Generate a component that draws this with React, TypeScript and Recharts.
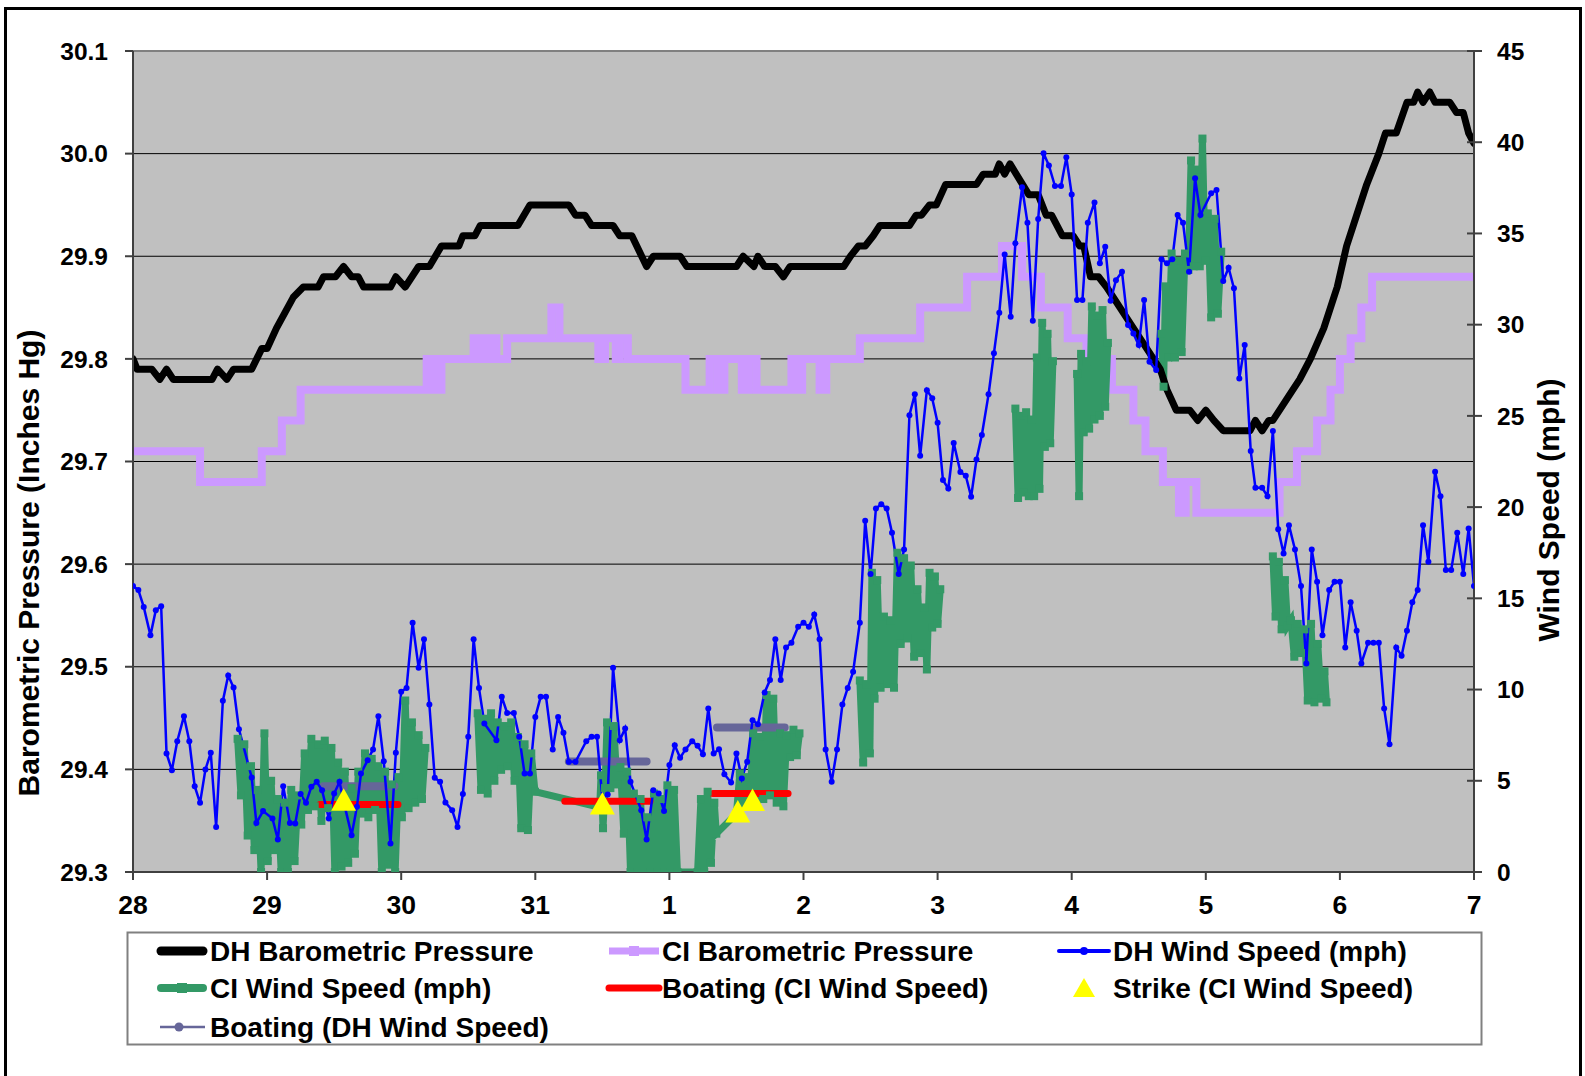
import React from 'react';
import {
  ComposedChart,
  Line,
  Scatter,
  XAxis,
  YAxis,
  CartesianGrid,
  ReferenceLine,
} from 'recharts';

type Pt = [number, number | null];

const FONT = '"Liberation Sans", Arial, sans-serif';

// x is days since the 28th
const dayTicks = [0, 1, 2, 3, 4, 5, 6, 7, 8, 9, 10];
const dayLabels = ['28', '29', '30', '31', '1', '2', '3', '4', '5', '6', '7'];
const pressureTicks = [29.3, 29.4, 29.5, 29.6, 29.7, 29.8, 29.9, 30.0, 30.1];
const windTicks = [0, 5, 10, 15, 20, 25, 30, 35, 40, 45];

// DH barometric pressure (inches Hg)
const dhPressure: Pt[] = [
  [0, 29.8], [0.03, 29.79], [0.14, 29.79], [0.2, 29.78], [0.25, 29.79], [0.3, 29.78],
  [0.59, 29.78], [0.63, 29.79], [0.7, 29.78], [0.75, 29.79], [0.885, 29.79], [0.96, 29.81],
  [1.0, 29.81], [1.07, 29.83], [1.195, 29.86], [1.27, 29.87], [1.38, 29.87], [1.42, 29.88],
  [1.51, 29.88], [1.57, 29.89], [1.63, 29.88], [1.68, 29.88], [1.72, 29.87], [1.92, 29.87],
  [1.96, 29.88], [2.03, 29.87], [2.13, 29.89], [2.21, 29.89], [2.3, 29.91], [2.43, 29.91],
  [2.46, 29.92], [2.55, 29.92], [2.59, 29.93], [2.87, 29.93], [2.96, 29.95], [3.25, 29.95],
  [3.3, 29.94], [3.37, 29.94], [3.42, 29.93], [3.58, 29.93], [3.63, 29.92], [3.72, 29.92],
  [3.83, 29.89], [3.88, 29.9], [4.08, 29.9], [4.13, 29.89], [4.5, 29.89], [4.55, 29.9],
  [4.63, 29.89], [4.66, 29.9], [4.71, 29.89], [4.79, 29.89], [4.85, 29.88], [4.9, 29.89],
  [5.3, 29.89], [5.35, 29.9], [5.41, 29.91], [5.46, 29.91], [5.52, 29.92], [5.57, 29.93],
  [5.79, 29.93], [5.84, 29.94], [5.88, 29.94], [5.94, 29.95], [5.99, 29.95], [6.06, 29.97],
  [6.29, 29.97], [6.34, 29.98], [6.43, 29.98], [6.46, 29.99], [6.5, 29.98], [6.54, 29.99],
  [6.68, 29.96], [6.75, 29.96], [6.81, 29.94], [6.85, 29.94], [6.93, 29.92], [7.01, 29.92],
  [7.06, 29.91], [7.09, 29.91], [7.14, 29.88], [7.2, 29.88], [7.26, 29.87], [7.36, 29.85],
  [7.46, 29.83], [7.56, 29.81], [7.66, 29.79], [7.71, 29.77], [7.78, 29.75], [7.88, 29.75],
  [7.94, 29.74], [8.0, 29.75], [8.06, 29.74], [8.13, 29.73], [8.33, 29.73], [8.37, 29.74],
  [8.42, 29.73], [8.47, 29.74], [8.5, 29.74], [8.6, 29.76], [8.7, 29.78], [8.78, 29.8],
  [8.88, 29.83], [8.98, 29.87], [9.05, 29.91], [9.125, 29.94], [9.2, 29.97], [9.29, 30.0],
  [9.34, 30.02], [9.42, 30.02], [9.5, 30.05], [9.55, 30.05], [9.58, 30.06], [9.62, 30.05],
  [9.67, 30.06], [9.71, 30.05], [9.82, 30.05], [9.87, 30.04], [9.92, 30.04], [9.96, 30.02],
  [10.0, 30.01],
];

// CI barometric pressure, each value holds until the next reading
const ciPressure: Pt[] = [
  [0, 29.71], [0.5, 29.68], [0.96, 29.71], [1.11, 29.74], [1.25, 29.77], [2.19, 29.8],
  [2.22, 29.77], [2.25, 29.8], [2.27, 29.77], [2.3, 29.8], [2.54, 29.82], [2.555, 29.8],
  [2.57, 29.82], [2.61, 29.8], [2.66, 29.82], [2.71, 29.8], [2.79, 29.82], [3.12, 29.85],
  [3.18, 29.82], [3.47, 29.8], [3.52, 29.82], [3.6, 29.8], [3.63, 29.82], [3.69, 29.8],
  [4.12, 29.77], [4.3, 29.8], [4.36, 29.77], [4.41, 29.8], [4.54, 29.77], [4.59, 29.8],
  [4.65, 29.77], [4.91, 29.8], [4.96, 29.77], [4.99, 29.8], [5.12, 29.77], [5.17, 29.8],
  [5.42, 29.82], [5.87, 29.85], [6.22, 29.88], [6.48, 29.91], [6.63, 29.88], [6.77, 29.85],
  [6.97, 29.82], [7.11, 29.8], [7.3, 29.77], [7.46, 29.74], [7.55, 29.71], [7.68, 29.68],
  [7.8, 29.65], [7.85, 29.68], [7.93, 29.65], [8.55, 29.68], [8.68, 29.71], [8.83, 29.74],
  [8.93, 29.77], [9.0, 29.8], [9.08, 29.82], [9.16, 29.85], [9.24, 29.88], [10.0, 29.88],
];

// DH wind speed (mph)
const dhWind: Pt[] = [
  [0, 15.67], [0.04, 15.45], [0.08, 14.53], [0.13, 12.97], [0.17, 14.35], [0.21, 14.57],
  [0.25, 6.5], [0.29, 5.58], [0.33, 7.17], [0.38, 8.54], [0.42, 7.17], [0.46, 4.7],
  [0.5, 3.79], [0.54, 5.62], [0.58, 6.53], [0.62, 2.47], [0.67, 9.38], [0.71, 10.77],
  [0.75, 10.11], [0.79, 7.83], [0.885, 5.18], [0.92, 2.69], [0.97, 3.34], [1.04, 2.93],
  [1.08, 1.78], [1.12, 4.7], [1.17, 2.69], [1.21, 2.66], [1.25, 4.27], [1.29, 3.79],
  [1.33, 4.67], [1.37, 4.94], [1.41, 4.48], [1.46, 2.93], [1.5, 4.3], [1.54, 4.94],
  [1.58, 3.57], [1.63, 2.02], [1.67, 3.57], [1.7, 5.4], [1.75, 6.13], [1.79, 6.72],
  [1.83, 8.54], [1.87, 6.07], [1.92, 1.56], [1.96, 6.53], [2.0, 9.88], [2.04, 10.09],
  [2.085, 13.66], [2.13, 11.19], [2.17, 12.76], [2.21, 9.18], [2.25, 5.16], [2.29, 4.94],
  [2.33, 3.81], [2.38, 3.39], [2.42, 2.47], [2.46, 4.27], [2.5, 7.41], [2.54, 12.76],
  [2.58, 10.09], [2.62, 8.14], [2.71, 7.22], [2.75, 9.6], [2.79, 8.72], [2.84, 8.72],
  [2.88, 7.41], [2.92, 5.4], [2.96, 5.4], [3.0, 8.5], [3.04, 9.6], [3.08, 9.6],
  [3.13, 6.72], [3.17, 8.5], [3.21, 7.63], [3.25, 6.04], [3.3, 6.04], [3.38, 7.17],
  [3.42, 7.41], [3.46, 7.41], [3.5, 4.03], [3.54, 4.25], [3.58, 11.19], [3.63, 7.22],
  [3.67, 7.87], [3.71, 4.94], [3.79, 3.39], [3.83, 1.78], [3.88, 4.48], [3.92, 4.3],
  [3.96, 3.35], [4.0, 5.86], [4.04, 6.95], [4.08, 6.26], [4.12, 6.72], [4.17, 7.17],
  [4.21, 6.92], [4.25, 6.46], [4.29, 8.96], [4.33, 6.5], [4.37, 6.73], [4.41, 5.36],
  [4.46, 4.91], [4.5, 6.5], [4.54, 5.13], [4.58, 6.04], [4.62, 8.32], [4.66, 8.1],
  [4.71, 9.84], [4.75, 10.52], [4.79, 12.76], [4.83, 10.52], [4.87, 12.31], [4.91, 12.56],
  [4.96, 13.44], [5.0, 13.66], [5.04, 13.44], [5.08, 14.11], [5.12, 12.76], [5.165, 6.72],
  [5.21, 4.94], [5.25, 6.72], [5.29, 9.18], [5.33, 10.09], [5.37, 10.97], [5.42, 13.66],
  [5.46, 19.25], [5.5, 16.33], [5.54, 19.93], [5.58, 20.15], [5.62, 19.93], [5.66, 18.59],
  [5.71, 16.33], [5.75, 17.68], [5.79, 25.04], [5.83, 26.18], [5.87, 22.81], [5.92, 26.41],
  [5.96, 25.96], [6.0, 24.62], [6.04, 21.48], [6.08, 21.02], [6.12, 23.52], [6.17, 21.92],
  [6.21, 21.72], [6.25, 20.57], [6.29, 22.61], [6.33, 23.95], [6.38, 26.18], [6.42, 28.43],
  [6.46, 30.65], [6.5, 33.85], [6.545, 30.44], [6.58, 34.46], [6.63, 37.53], [6.67, 35.59],
  [6.71, 30.22], [6.75, 35.79], [6.79, 39.39], [6.83, 38.73], [6.875, 37.6], [6.92, 37.6],
  [6.96, 39.17], [7.0, 37.14], [7.04, 31.35], [7.08, 31.35], [7.12, 35.59], [7.17, 36.7],
  [7.21, 33.36], [7.25, 34.27], [7.29, 31.31], [7.33, 32.44], [7.375, 32.9], [7.42, 29.98],
  [7.46, 29.52], [7.5, 28.88], [7.54, 31.35], [7.58, 27.97], [7.63, 27.51], [7.67, 33.58],
  [7.71, 33.36], [7.75, 33.58], [7.79, 36.01], [7.83, 35.59], [7.875, 32.9], [7.92, 38.02],
  [7.96, 36.01], [8.04, 37.2], [8.08, 37.38], [8.13, 32.39], [8.17, 33.12], [8.21, 31.99],
  [8.25, 27.05], [8.29, 28.88], [8.335, 23.07], [8.37, 21.06], [8.42, 21.06], [8.46, 20.6],
  [8.5, 24.17], [8.54, 18.79], [8.58, 17.46], [8.62, 19.01], [8.665, 17.68], [8.71, 15.67],
  [8.75, 11.43], [8.79, 17.68], [8.83, 15.91], [8.87, 12.98], [8.92, 15.45], [8.96, 15.91],
  [9.0, 15.91], [9.04, 12.31], [9.08, 14.78], [9.125, 13.22], [9.16, 11.43], [9.21, 12.56],
  [9.25, 12.56], [9.29, 12.56], [9.33, 8.96], [9.37, 7.0], [9.42, 12.31], [9.46, 11.85],
  [9.5, 13.22], [9.54, 14.78], [9.58, 15.45], [9.62, 19.01], [9.66, 17.0], [9.71, 21.94],
  [9.75, 20.6], [9.79, 16.55], [9.83, 16.55], [9.875, 18.59], [9.92, 16.33], [9.96, 18.83],
  [10.0, 15.67],
];

// CI wind speed (mph), null where the station logged nothing
const ciWind: Pt[] = [
  [0.78, 7.3], [0.805, 4.2], [0.83, 7.0], [0.855, 2.0], [0.88, 5.8], [0.905, 1.2],
  [0.93, 4.5], [0.955, 0], [0.98, 7.6], [1.005, 0.6], [1.03, 5.0], [1.055, 1.2],
  [1.08, 4.0], [1.105, 0], [1.13, 3.8], [1.155, 0], [1.18, 4.5], [1.205, 0.6],
  [1.23, 4.2], [1.255, 2.6], [1.28, 6.5], [1.305, 3.4], [1.33, 7.3], [1.355, 3.6],
  [1.38, 7.0], [1.405, 2.8], [1.43, 7.2], [1.455, 3.5], [1.48, 6.8], [1.505, 0],
  [1.53, 6.0], [1.555, 0.3], [1.58, 5.5], [1.605, 0.5], [1.63, 4.6], [1.655, 1.0],
  [1.68, 5.5], [1.705, 3.2], [1.73, 6.5], [1.755, 3.0], [1.78, 6.2], [1.805, 3.4],
  [1.83, 5.8], [1.855, 0], [1.88, 5.5], [1.905, 0.4], [1.93, 4.8], [1.955, 0],
  [1.98, 5.2], [2.005, 3.0], [2.03, 9.4], [2.055, 3.5], [2.08, 8.2], [2.105, 3.8],
  [2.13, 7.5], [2.155, 4.0], [2.18, 6.8], [2.3, null],
  [2.57, 8.7], [2.595, 4.5], [2.62, 8.4], [2.645, 4.3], [2.67, 8.7], [2.695, 5.0],
  [2.72, 8.2], [2.745, 5.6], [2.77, 8.0], [2.795, 5.8], [2.82, 8.2], [2.845, 5.0],
  [2.87, 7.4], [2.895, 2.4], [2.92, 7.0], [2.945, 2.3], [2.97, 6.5], [2.998, 4.4],
  [3.48, 3.55], [3.49, 5.3], [3.505, 2.4], [3.52, 4.6], [3.535, 8.2], [3.56, 4.6],
  [3.585, 8.0], [3.61, 4.8], [3.635, 5.75], [3.66, 2.1], [3.685, 5.5], [3.71, 0],
  [3.735, 4.3], [3.76, 0], [3.785, 4.0], [3.81, 0], [3.835, 3.0], [3.86, 0],
  [3.885, 4.3], [3.91, 0], [3.935, 4.0], [3.96, 0], [3.985, 4.75], [4.01, 0],
  [4.035, 4.5], [4.06, 0], [4.21, 0], [4.235, 4.0], [4.26, 0], [4.285, 4.4],
  [4.31, 0.5], [4.335, 3.8], [4.35, 2.1], [4.5, 3.2], [4.525, 5.4], [4.55, 3.6],
  [4.575, 5.2], [4.6, 3.8], [4.625, 7.6], [4.65, 3.6], [4.675, 7.4], [4.7, 4.0],
  [4.725, 9.7], [4.75, 4.2], [4.775, 9.5], [4.8, 3.8], [4.825, 7.6], [4.85, 3.6],
  [4.875, 7.5], [4.9, 6.3], [4.925, 7.8], [4.95, 6.4], [4.97, 7.6], [5.1, null],
  [5.42, 10.5], [5.445, 6.0], [5.47, 10.3], [5.495, 6.5], [5.51, 16.4], [5.53, 9.5],
  [5.55, 16.0], [5.575, 10.1], [5.6, 14.0], [5.625, 10.3], [5.65, 13.8], [5.675, 10.1],
  [5.7, 17.5], [5.725, 12.5], [5.75, 17.2], [5.775, 12.8], [5.8, 16.8], [5.825, 11.8],
  [5.85, 15.5], [5.875, 12.0], [5.9, 14.5], [5.92, 11.1], [5.94, 16.4], [5.96, 13.4],
  [5.98, 16.2], [6.0, 13.6], [6.02, 15.5], [6.2, null],
  [6.58, 25.4], [6.6, 20.5], [6.62, 25.0], [6.64, 20.8], [6.66, 25.2], [6.68, 20.6],
  [6.7, 24.8], [6.72, 20.6], [6.74, 28.2], [6.76, 21.0], [6.78, 30.1], [6.8, 23.3],
  [6.82, 29.5], [6.84, 23.5], [6.86, 28.0], [6.95, null],
  [7.04, 27.3], [7.055, 20.6], [7.07, 28.4], [7.09, 24.1], [7.11, 28.0], [7.13, 24.3],
  [7.15, 31.0], [7.17, 24.8], [7.19, 30.5], [7.21, 25.0], [7.23, 30.8], [7.25, 25.5],
  [7.27, 29.0], [7.4, null],
  [7.67, 29.5], [7.685, 26.6], [7.7, 32.1], [7.72, 28.2], [7.745, 33.9], [7.77, 28.2],
  [7.795, 33.5], [7.82, 28.5], [7.845, 33.9], [7.87, 33.0], [7.89, 39.0], [7.91, 33.2],
  [7.935, 38.5], [7.955, 33.2], [7.975, 40.2], [7.995, 33.5], [8.015, 36.1], [8.04, 30.4],
  [8.065, 35.8], [8.09, 30.6], [8.115, 34.0], [8.3, null],
  [8.5, 17.3], [8.52, 14.0], [8.545, 17.0], [8.565, 13.3], [8.59, 16.0], [8.61, 13.5],
  [8.635, 13.8], [8.66, 11.8], [8.685, 13.6], [8.71, 12.0], [8.735, 13.3], [8.76, 9.4],
  [8.785, 13.6], [8.81, 9.3], [8.835, 12.5], [8.86, 9.5], [8.885, 11.0], [8.9, 9.3],
];

// boating periods, plotted at the wind speed of each station
const boatingCi: Pt[] = [
  [1.394, 3.7], [1.976, 3.7], [2.5, null],
  [3.22, 3.88], [3.855, 3.88], [4.1, null],
  [4.325, 4.3], [4.885, 4.3],
];
const boatingDh: Pt[] = [
  [1.42, 4.7], [1.95, 4.7], [2.5, null],
  [3.25, 6.06], [3.83, 6.06], [4.1, null],
  [4.355, 7.92], [4.86, 7.92],
];

// strike times at the CI wind speed
const strikes: Pt[] = [[1.571, 3.96], [3.5, 3.76], [4.51, 3.32], [4.62, 3.94]];

const rows = (pts: Pt[]) => pts.map(([x, v]) => ({ x, v }));

const tickFont = { fontSize: 24.5, fontWeight: 700, fill: '#000', fontFamily: FONT };
const xTickFont = { ...tickFont, fontSize: 26.5 };
const AXIS = '#404040';

const SquareDot = (props: any) => {
  const { cx, cy, index, payload } = props;
  if (cx == null || cy == null || payload?.v == null) return <g key={`sq-${index}`} />;
  return <rect key={`sq-${index}`} x={cx - 4} y={cy - 4} width={8} height={8} fill="#339966" />;
};

const Triangle = (props: any) => {
  const { cx, cy } = props;
  if (cx == null || cy == null) return <g />;
  return (
    <polygon
      points={`${cx},${cy - 11.5} ${cx + 12.5},${cy + 11} ${cx - 12.5},${cy + 11}`}
      fill="#FFFF00"
    />
  );
};

const RightTick = (props: any) => {
  const { x, y, payload } = props;
  const axisX = x - 23;
  return (
    <g>
      <line x1={axisX - 7} x2={axisX + 8} y1={y} y2={y} stroke={AXIS} strokeWidth={2} />
      <text x={x} y={y} dy="0.355em" textAnchor="start" {...tickFont}>
        {payload.value}
      </text>
    </g>
  );
};

const legendRows = [951, 988, 1027];
const legendCols = [
  { icon: 157, text: 210 },
  { icon: 609, text: 662 },
  { icon: 1059, text: 1113 },
];

const LegendIcon = ({ kind, x, y }: { kind: string; x: number; y: number }) => {
  const mid = x + 25;
  switch (kind) {
    case 'dhP':
      return <line x1={x + 4} x2={x + 46} y1={y} y2={y} stroke="#000" strokeWidth={9} strokeLinecap="round" />;
    case 'ciP':
      return (
        <g>
          <line x1={x} x2={x + 50} y1={y} y2={y} stroke="#CC99FF" strokeWidth={7} />
          <rect x={mid - 5} y={y - 5} width={10} height={10} fill="#CC99FF" />
        </g>
      );
    case 'dhW':
      return (
        <g>
          <line x1={x} x2={x + 50} y1={y} y2={y} stroke="#0000FF" strokeWidth={4} strokeLinecap="round" />
          <circle cx={mid} cy={y} r={4} fill="#0000FF" />
        </g>
      );
    case 'ciW':
      return (
        <g>
          <line x1={x + 4} x2={x + 46} y1={y} y2={y} stroke="#339966" strokeWidth={8} strokeLinecap="round" />
          <rect x={mid - 5} y={y - 5} width={10} height={10} fill="#339966" />
        </g>
      );
    case 'bCi':
      return <line x1={x} x2={x + 50} y1={y} y2={y} stroke="#FF0000" strokeWidth={7} strokeLinecap="round" />;
    case 'strike':
      return <polygon points={`${mid},${y - 10} ${mid + 11},${y + 9} ${mid - 11},${y + 9}`} fill="#FFFF00" />;
    default:
      return (
        <g>
          <line x1={x + 3} x2={x + 48} y1={y} y2={y} stroke="#666699" strokeWidth={2.5} />
          <circle cx={mid - 3} cy={y} r={4.5} fill="#666699" />
        </g>
      );
  }
};

const legendItems = [
  { kind: 'dhP', label: 'DH Barometric Pressure', row: 0, col: 0 },
  { kind: 'ciP', label: 'CI Barometric Pressure', row: 0, col: 1 },
  { kind: 'dhW', label: 'DH Wind Speed (mph)', row: 0, col: 2 },
  { kind: 'ciW', label: 'CI Wind Speed (mph)', row: 1, col: 0 },
  { kind: 'bCi', label: 'Boating (CI Wind Speed)', row: 1, col: 1 },
  { kind: 'strike', label: 'Strike (CI Wind Speed)', row: 1, col: 2 },
  { kind: 'bDh', label: 'Boating (DH Wind Speed)', row: 2, col: 0 },
];

export default function App() {
  return (
    <div
      style={{
        position: 'absolute',
        left: 0,
        top: 0,
        width: 1585,
        height: 1076,
        overflow: 'hidden',
        background: '#fff',
        fontFamily: FONT,
      }}
    >
      <div
        style={{
          position: 'absolute',
          left: 4,
          top: 7,
          width: 1572,
          height: 1100,
          border: '3px solid #000',
        }}
      />
      <div style={{ position: 'absolute', left: 0, top: 0 }}>
        <ComposedChart width={1585} height={1076} margin={{ top: 51, right: 31, bottom: 154, left: 33 }}>
          <CartesianGrid yAxisId="left" vertical={false} stroke="#000" strokeWidth={1} fill="#C0C0C0" fillOpacity={1} />
          <XAxis
            dataKey="x"
            type="number"
            domain={[0, 10]}
            ticks={dayTicks}
            tickFormatter={(v: number) => dayLabels[Math.round(v)]}
            height={50}
            tickSize={8}
            tickMargin={15}
            tick={xTickFont}
            axisLine={{ stroke: AXIS, strokeWidth: 2 }}
            tickLine={{ stroke: AXIS, strokeWidth: 2 }}
            allowDataOverflow
          />
          <YAxis
            yAxisId="left"
            orientation="left"
            type="number"
            domain={[29.3, 30.1]}
            ticks={pressureTicks}
            tickFormatter={(v: number) => v.toFixed(1)}
            width={100}
            tickSize={8}
            tickMargin={17}
            tick={tickFont}
            axisLine={{ stroke: AXIS, strokeWidth: 2 }}
            tickLine={{ stroke: AXIS, strokeWidth: 2 }}
            allowDataOverflow
          />
          <YAxis
            yAxisId="right"
            orientation="right"
            type="number"
            domain={[0, 45]}
            ticks={windTicks}
            width={80}
            tickSize={8}
            tickMargin={15}
            tick={<RightTick />}
            tickLine={false}
            axisLine={{ stroke: AXIS, strokeWidth: 2 }}
            allowDataOverflow
          />
          <ReferenceLine yAxisId="left" y={30.1} stroke="#808080" strokeWidth={2} />
          <Line
            data={rows(ciPressure)}
            dataKey="v"
            yAxisId="left"
            type="stepAfter"
            stroke="#CC99FF"
            strokeWidth={8}
            strokeLinejoin="miter"
            dot={false}
            isAnimationActive={false}
          />
          <Line
            data={rows(ciWind)}
            dataKey="v"
            yAxisId="right"
            type="linear"
            stroke="#339966"
            strokeWidth={7}
            dot={SquareDot}
            activeDot={false}
            isAnimationActive={false}
          />
          <Line
            data={rows(dhPressure)}
            dataKey="v"
            yAxisId="left"
            type="linear"
            stroke="#000"
            strokeWidth={7}
            strokeLinejoin="round"
            strokeLinecap="round"
            dot={false}
            isAnimationActive={false}
          />
          <Line
            data={rows(boatingCi)}
            dataKey="v"
            yAxisId="right"
            type="linear"
            stroke="#FF0000"
            strokeWidth={7}
            strokeLinecap="round"
            dot={false}
            isAnimationActive={false}
          />
          <Line
            data={rows(boatingDh)}
            dataKey="v"
            yAxisId="right"
            type="linear"
            stroke="#666699"
            strokeWidth={8}
            strokeLinecap="round"
            dot={false}
            isAnimationActive={false}
          />
          <Line
            data={rows(dhWind)}
            dataKey="v"
            yAxisId="right"
            type="linear"
            stroke="#0000FF"
            strokeWidth={2.5}
            dot={{ r: 3, fill: '#0000FF', stroke: '#0000FF', strokeWidth: 0 }}
            activeDot={false}
            isAnimationActive={false}
          />
          <Scatter
            data={rows(strikes)}
            dataKey="v"
            yAxisId="right"
            shape={<Triangle />}
            isAnimationActive={false}
          />
        </ComposedChart>
      </div>
      <svg
        width={1585}
        height={1076}
        style={{ position: 'absolute', left: 0, top: 0, pointerEvents: 'none' }}
        fontFamily={FONT}
        fontWeight={700}
      >
        <text
          transform="translate(28, 563) rotate(-90)"
          textAnchor="middle"
          dominantBaseline="central"
          fontSize={30}
        >
          Barometric Pressure (Inches Hg)
        </text>
        <text
          transform="translate(1548, 510) rotate(-90)"
          textAnchor="middle"
          dominantBaseline="central"
          fontSize={30}
        >
          Wind Speed (mph)
        </text>
        <rect x={127.5} y={932.5} width={1354} height={112} fill="#fff" stroke="#808080" strokeWidth={2} />
        {legendItems.map((it) => {
          const y = legendRows[it.row];
          const col = legendCols[it.col];
          return (
            <g key={it.label}>
              <LegendIcon kind={it.kind} x={col.icon} y={y} />
              <text x={col.text} y={y} dominantBaseline="central" fontSize={28}>
                {it.label}
              </text>
            </g>
          );
        })}
      </svg>
    </div>
  );
}
